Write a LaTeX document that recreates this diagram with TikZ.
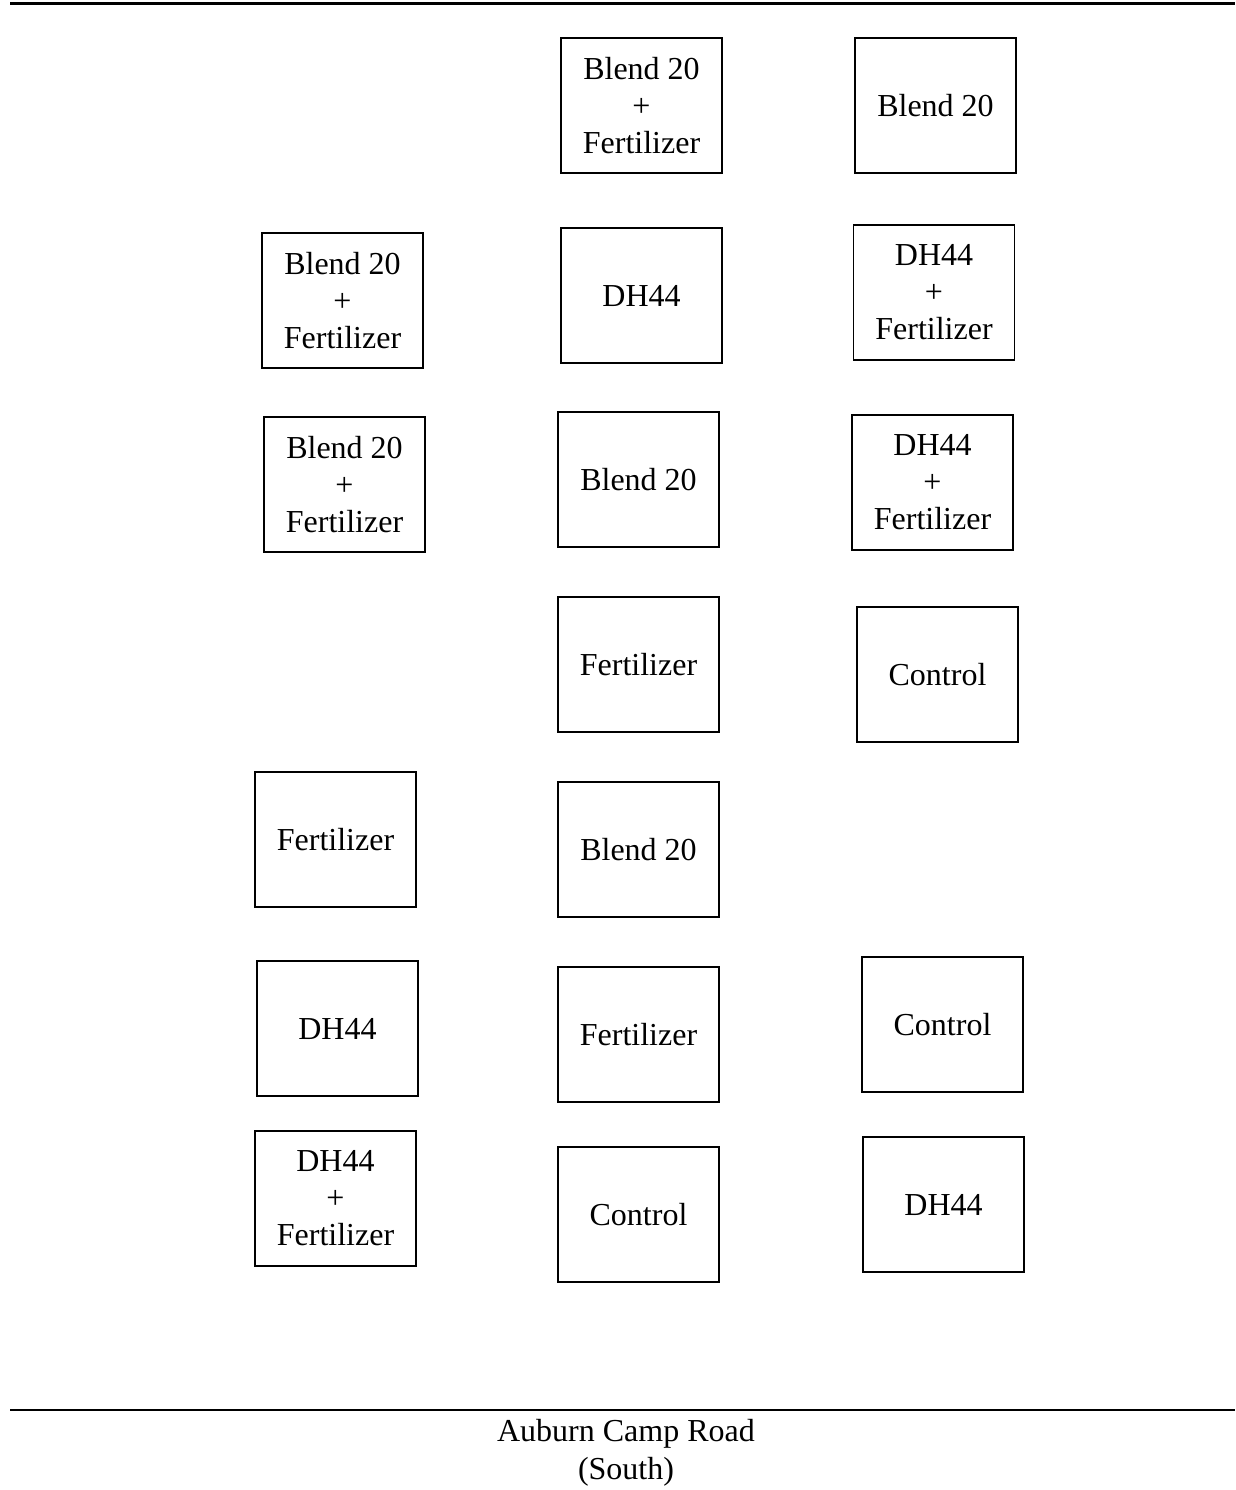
\documentclass[tikz,border=0pt]{standalone}
\usepackage{fontspec}
\setmainfont{Liberation Serif}
\begin{document}
\begin{tikzpicture}[x=1pt,y=-1pt,
  plot/.style={draw=black,line width=1.2pt,minimum width=161pt,minimum height=135pt,inner sep=0pt,align=center,
    font=\fontsize{32}{37}\selectfont},
  road/.style={line width=2.2pt}]
\useasboundingbox (0,0) rectangle (1235,1490);
\coordinate (tl) at (10,3.5);
\coordinate (tr) at (1235,3.5);
\coordinate (bl) at (10,1410);
\coordinate (br) at (1235,1410);
\draw[road] (tl) -- (tr);
\draw[road] (bl) -- (br);
\node[plot] (p1) at (641.5,105.5) {Blend 20\\+\\Fertilizer};
\node[plot] (p2) at (935.5,105.5) {Blend 20};
\node[plot] (p3) at (342.5,300.5) {Blend 20\\+\\Fertilizer};
\node[plot] (p4) at (641.5,295.5) {DH44};
\node[plot] (p5) at (934,292.5) {DH44\\+\\Fertilizer};
\node[plot] (p6) at (344.5,484.5) {Blend 20\\+\\Fertilizer};
\node[plot] (p7) at (638.5,479.5) {Blend 20};
\node[plot] (p8) at (932.5,482.5) {DH44\\+\\Fertilizer};
\node[plot] (p9) at (638.5,664.5) {Fertilizer};
\node[plot] (p10) at (937.5,674.5) {Control};
\node[plot] (p11) at (335.5,839.5) {Fertilizer};
\node[plot] (p12) at (638.5,849.5) {Blend 20};
\node[plot] (p13) at (337.5,1028.5) {DH44};
\node[plot] (p14) at (638.5,1034.5) {Fertilizer};
\node[plot] (p15) at (942.5,1024.5) {Control};
\node[plot] (p16) at (335.5,1198.5) {DH44\\+\\Fertilizer};
\node[plot] (p17) at (638.5,1214.5) {Control};
\node[plot] (p18) at (943.5,1204.5) {DH44};
\node[align=center,inner sep=0pt,font=\fontsize{32}{38}\selectfont] (road) at (626,1453) {Auburn Camp Road\\(South)};
\end{tikzpicture}
\end{document}
